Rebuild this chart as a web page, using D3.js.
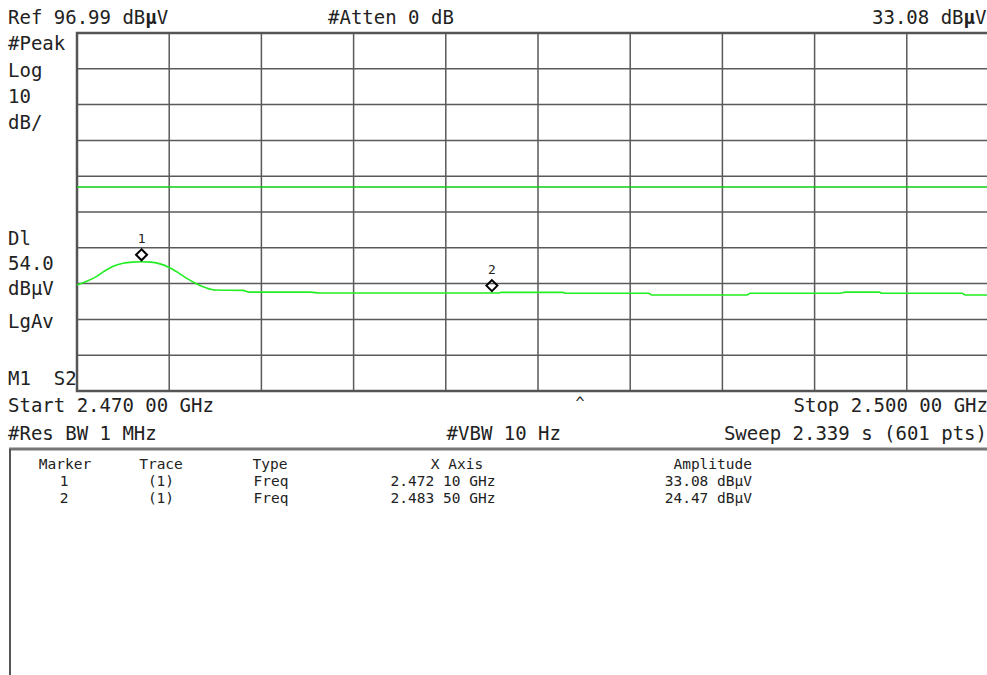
<!DOCTYPE html>
<html>
<head>
<meta charset="utf-8">
<script src="https://cdn.jsdelivr.net/npm/d3@7"></script>
<style>
  body { margin: 0; background: #fff; }
  text { font-family: "DejaVu Sans Mono", monospace; fill: #222; }
</style>
</head>
<body>
<script>
// trace (MHz, dBuV)
var traceFreq = [2470.0, 2470.3, 2470.6, 2470.9, 2471.2, 2471.5, 2471.8, 2472.1, 2472.4, 2472.7,
    2473.0, 2473.3, 2473.6, 2473.9, 2474.2, 2474.5, 2475.4, 2475.6, 2477.6, 2477.9,
    2483.7, 2483.8, 2485.8, 2485.9, 2488.6, 2488.7, 2491.8, 2491.9, 2494.8, 2495.0,
    2496.1, 2496.2, 2498.8, 2498.9, 2500.0];
var traceAmp = [26.6, 27.6, 28.8, 30.5, 31.9, 32.7, 33.0, 33.08, 33.0, 32.5,
    31.5, 30.0, 28.3, 26.9, 25.8, 25.2, 25.1, 24.6, 24.6, 24.35,
    24.35, 24.55, 24.55, 24.3, 24.3, 23.8, 23.8, 24.3, 24.3, 24.6,
    24.6, 24.3, 24.3, 23.8, 23.8];

var markerNum = ["1", "2"];
var markerFreq = [2472.1, 2483.5];
var markerAmp = [33.08, 24.47];
var markerFreqLabel = ["2.472 10 GHz", "2.483 50 GHz"];
var markerAmpLabel = ["33.08 dBμV", "24.47 dBμV"];

var refLevel = 96.99;
var dbPerDiv = 10;
var displayLine = 54.0;
var startFreq = 2470, stopFreq = 2500;

var leftLabels = [["#Peak", 50], ["Log", 77], ["10", 103], ["dB/", 129],
    ["Dl", 245], ["54.0", 270], ["dBμV", 295], ["LgAv", 328]];

var svg = d3.select("body").append("svg").attr("width", 987).attr("height", 675);

var x = d3.scaleLinear().domain([startFreq, stopFreq]).range([77, 999]);
var y = d3.scaleLinear().domain([refLevel, refLevel - 10 * dbPerDiv]).range([33, 391]);

// grid
var g = svg.append("g");
g.selectAll("line.v").data(d3.range(1, 10)).enter().append("line")
    .attr("x1", function (i) { return x(startFreq + i * 3) })
    .attr("x2", function (i) { return x(startFreq + i * 3) })
    .attr("y1", y.range()[0]).attr("y2", y.range()[1])
    .attr("stroke", "#5a5a5a").attr("stroke-width", 1.5);
g.selectAll("line.h").data(d3.range(1, 10)).enter().append("line")
    .attr("x1", x.range()[0]).attr("x2", x.range()[1])
    .attr("y1", function (i) { return y(refLevel - i * dbPerDiv) })
    .attr("y2", function (i) { return y(refLevel - i * dbPerDiv) })
    .attr("stroke", "#5a5a5a").attr("stroke-width", 1.5);
g.append("rect").attr("x", 77).attr("y", 33).attr("width", 922).attr("height", 358)
    .attr("fill", "none").attr("stroke", "#555").attr("stroke-width", 2.5);

// display line
svg.append("line").attr("x1", x(startFreq)).attr("x2", x(stopFreq))
    .attr("y1", y(displayLine)).attr("y2", y(displayLine))
    .attr("stroke", "#11cc11").attr("stroke-width", 1.5);

// trace
var line = d3.line()
    .x(function (d, i) { return x(traceFreq[i]) })
    .y(function (d) { return y(d) })
    .curve(d3.curveMonotoneX);
svg.append("path").attr("d", line(traceAmp))
    .attr("fill", "none").attr("stroke", "#22ee22").attr("stroke-width", 1.6);

// markers
markerNum.forEach(function (m, i) {
    var cx = x(markerFreq[i]), cy = y(markerAmp[i]) - 7;
    svg.append("path")
        .attr("d", "M" + cx + "," + (cy - 5.5) + "L" + (cx + 5.5) + "," + cy + "L" + cx + "," + (cy + 5.5) + "L" + (cx - 5.5) + "," + cy + "Z")
        .attr("fill", "none").attr("stroke", "#000").attr("stroke-width", 2);
    svg.append("text").attr("x", cx).attr("y", cy - 12).attr("text-anchor", "middle")
        .attr("font-size", 13).text(m);
});

// header texts
var big = 19;
var t1 = svg.append("text").attr("x", 8).attr("y", 24).attr("font-size", big);
t1.append("tspan").text("Ref 96.99 dB");
t1.append("tspan").attr("font-weight", "bold").text("μ");
t1.append("tspan").text("V");
svg.append("text").attr("x", 328).attr("y", 24).attr("font-size", big).text("#Atten 0 dB");
var t2 = svg.append("text").attr("x", 872).attr("y", 24).attr("font-size", big);
t2.append("tspan").text("33.08 dB");
t2.append("tspan").attr("font-weight", "bold").text("μ");
t2.append("tspan").text("V");

svg.selectAll("text.left").data(leftLabels).enter().append("text")
    .attr("x", 8).attr("y", function (d) { return d[1] }).attr("font-size", big)
    .text(function (d) { return d[0] });
svg.append("text").attr("x", 8).attr("y", 385).attr("font-size", big)
    .style("white-space", "pre").text("M1  S2");

svg.append("text").attr("x", 580).attr("y", 408).attr("text-anchor", "middle")
    .attr("font-size", 15).text("^");

svg.append("text").attr("x", 8).attr("y", 412).attr("font-size", big).text("Start 2.470 00 GHz");
svg.append("text").attr("x", 988).attr("y", 412).attr("font-size", big).attr("text-anchor", "end").text("Stop 2.500 00 GHz");
svg.append("text").attr("x", 8).attr("y", 440).attr("font-size", big).text("#Res BW 1 MHz");
svg.append("text").attr("x", 561).attr("y", 440).attr("font-size", big).attr("text-anchor", "end").text("#VBW 10 Hz");
svg.append("text").attr("x", 987).attr("y", 440).attr("font-size", big).attr("text-anchor", "end").text("Sweep 2.339 s (601 pts)");

// marker table
svg.append("line").attr("x1", 9).attr("x2", 987).attr("y1", 449).attr("y2", 449)
    .attr("stroke", "#777").attr("stroke-width", 3);
svg.append("line").attr("x1", 10).attr("x2", 10).attr("y1", 449).attr("y2", 675)
    .attr("stroke", "#555").attr("stroke-width", 2);

var small = 14.5;
var cols = [
    { head: "Marker", hx: 65, vx: 64, vals: markerNum, anchor: "middle" },
    { head: "Trace", hx: 161, vx: 161, vals: ["(1)", "(1)"], anchor: "middle" },
    { head: "Type", hx: 270, vx: 271, vals: ["Freq", "Freq"], anchor: "middle" },
    { head: "X Axis", hx: 457, vx: 443, vals: markerFreqLabel, anchor: "middle" },
    { head: "Amplitude", hx: 752, vx: 752, vals: markerAmpLabel, anchor: "end" }
];
cols.forEach(function (c) {
    svg.append("text").attr("x", c.hx).attr("y", 469).attr("font-size", small)
        .attr("text-anchor", c.anchor).text(c.head);
    c.vals.forEach(function (v, i) {
        svg.append("text").attr("x", c.vx).attr("y", 486 + i * 17).attr("font-size", small)
            .attr("text-anchor", c.anchor).text(v);
    });
});
</script>
</body>
</html>
